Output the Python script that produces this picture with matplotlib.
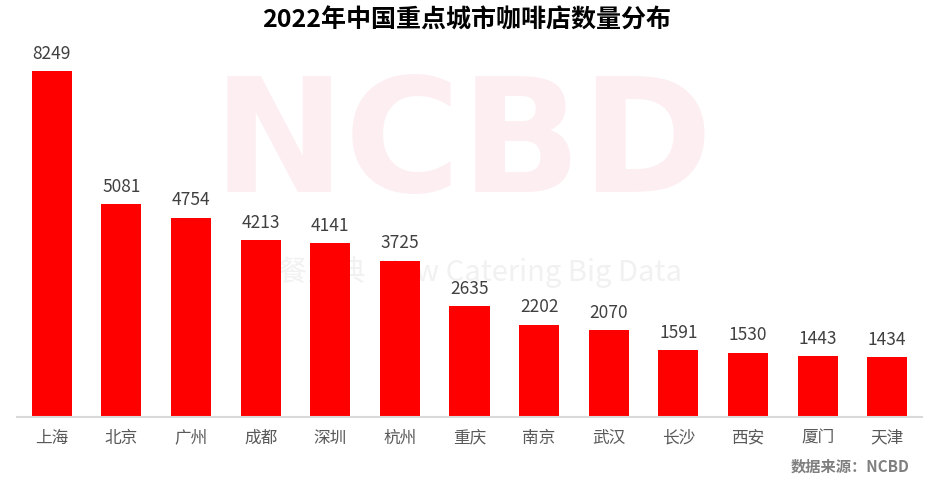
import matplotlib.pyplot as plt

plt.rcParams['font.family'] = ['Noto Sans CJK SC', 'DejaVu Sans']

cities = ['上海', '北京', '广州', '成都', '深圳', '杭州', '重庆', '南京', '武汉', '长沙', '西安', '厦门', '天津']
stores = [8249, 5081, 4754, 4213, 4141, 3725, 2635, 2202, 2070, 1591, 1530, 1443, 1434]

W, H = 933, 484
fig = plt.figure(figsize=(W / 100, H / 100), dpi=100)
ax = fig.add_axes([17 / W, (H - 417) / H, 905 / W, 377.5 / H])

# faint watermark behind the bars
ax.text(463 / W, 1 - 148 / H, 'NCBD', fontsize=114, fontweight='bold',
        color='#fdeef2', ha='center', va='center', family='DejaVu Sans',
        transform=fig.transFigure, zorder=1)
ax.text(480 / W, 1 - 272 / H, '餐宝典  New Catering Big Data', fontsize=21, color='#f1f1f1',
        ha='center', va='center', transform=fig.transFigure, zorder=1)

x = range(len(cities))
ax.bar(x, stores, width=0.575, color='#ff0000', zorder=2)
for xi, v in zip(x, stores):
    ax.annotate(str(v), (xi, v), xytext=(0, 6), textcoords='offset points',
                ha='center', va='bottom', fontsize=12.5, color='#404040', zorder=3)

ax.set_xlim(-0.5, len(cities) - 0.5)
ax.set_ylim(0, 9000)
ax.set_xticks(list(x))
ax.set_xticklabels(cities, fontsize=12, color='#595959')
ax.tick_params(axis='x', length=0, pad=9)
ax.set_yticks([])
for s in ['top', 'right', 'left']:
    ax.spines[s].set_visible(False)
ax.spines['bottom'].set_color('#d9d9d9')
ax.spines['bottom'].set_linewidth(1.5)

fig.text(0.5, 1 - 20 / H, '2022年中国重点城市咖啡店数量分布', ha='center', va='center',
         fontsize=18, fontweight='bold', color='black')
fig.text(910 / W, 1 - 467 / H, '数据来源：NCBD', ha='right', va='center',
         fontsize=11, fontweight='bold', color='#7f7f7f')

fig.savefig('out.png', dpi=100)
